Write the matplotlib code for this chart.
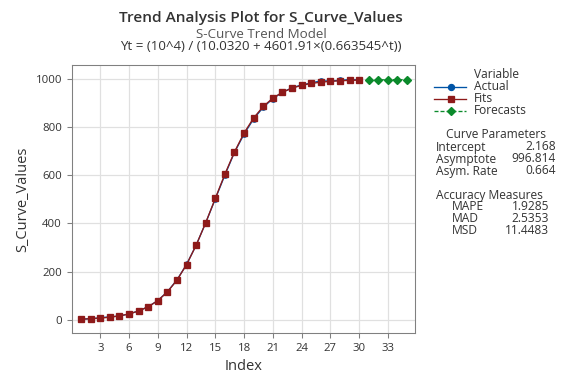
import matplotlib.pyplot as plt

plt.rcParams["font.family"] = ["Open Sans", "DejaVu Sans"]

# --------------------------------------------------
# Data
# --------------------------------------------------
index = list(range(1, 31))
actual = [3, 5, 9, 13, 16, 25, 37, 55, 80, 117, 166, 230, 310, 403, 502,
          601, 695, 771, 834, 882, 918, 944, 963, 975, 983, 992, 991, 994, 997, 996]
fits = [3.3, 4.9, 7.4, 11.1, 16.6, 24.8, 37.0, 54.7, 80.1, 116.0, 165.2, 229.6,
        309.9, 403.4, 504.4, 604.9, 697.1, 775.6, 838.2, 885.6, 920.1, 944.6,
        961.5, 973.1, 981.0, 986.2, 989.8, 992.1, 993.7, 994.7]
fc_index = [31, 32, 33, 34, 35]
forecasts = [995.4, 995.9, 996.2, 996.4, 996.5]

curve_params = [("Intercept", "2.168"), ("Asymptote", "996.814"), ("Asym. Rate", "0.664")]
accuracy = [("MAPE", "1.9285"), ("MAD", "2.5353"), ("MSD", "11.4483")]

blue = "#0054A6"
red = "#8E1A1A"
green = "#0B8A2B"
txt = "#333333"

# --------------------------------------------------
# Plot
# --------------------------------------------------
fig = plt.figure(figsize=(6, 4), dpi=96)
ax = fig.add_axes([0.125, 0.133, 0.595, 0.698])

ax.plot(index, actual, color=blue, linewidth=1, marker="o", markersize=4)
ax.plot(index, fits, color=red, linewidth=1, marker="s", markersize=4.5)
ax.plot(fc_index, forecasts, color=green, linewidth=1, linestyle=(0, (3, 1.5)),
        marker="D", markersize=4)

ax.set_xlim(0.05, 35.8)
ax.set_ylim(-54, 1058)
ax.set_xticks(range(3, 34, 3))
ax.set_yticks(range(0, 1001, 200))
ax.grid(color="#E0E0E0", linewidth=0.9)
ax.set_axisbelow(True)
for s in ax.spines.values():
    s.set_color("#808080")
ax.tick_params(colors="#808080", labelcolor=txt, labelsize=8.5, length=4)
ax.set_xlabel("Index", fontsize=11, color=txt)
ax.set_ylabel("S_Curve_Values", fontsize=11, color=txt)

# titles
cx = 261 / 576
fig.text(cx, 1 - 18 / 384, "Trend Analysis Plot for S_Curve_Values", ha="center", va="center",
         fontsize=11.5, fontweight="semibold", color=txt)
fig.text(cx, 1 - 34 / 384, "S-Curve Trend Model", ha="center", va="center", fontsize=10,
         color="#555555")
fig.text(cx, 1 - 47 / 384, "Yt = (10^4) / (10.0320 + 4601.91\u00d7(0.663545^t))", ha="center",
         va="center", fontsize=10, color=txt)

# legend and statistics panel
def yy(py):
    return 1 - py / 384

fs = 9
fig.text(474 / 576, yy(75), "Variable", fontsize=fs, color=txt, va="center")
legend_items = [("Actual", blue, "o", "-"), ("Fits", red, "s", "-"),
                ("Forecasts", green, "D", (0, (3, 1.5)))]
for i, (name, c, m, ls) in enumerate(legend_items):
    y = yy(87 + 12 * i)
    fig.add_artist(plt.Line2D([434 / 576, 466 / 576], [y, y], color=c, linewidth=1,
                              linestyle=ls, transform=fig.transFigure))
    fig.add_artist(plt.Line2D([451 / 576], [y], color=c, marker=m, markersize=4.5,
                              transform=fig.transFigure))
    fig.text(474 / 576, y, name, fontsize=fs, color=txt, va="center")

fig.text(496 / 576, yy(135), "Curve Parameters", fontsize=fs, color=txt, ha="center", va="center")
for i, (k, v) in enumerate(curve_params):
    y = yy(147 + 12 * i)
    fig.text(436 / 576, y, k, fontsize=fs, color=txt, va="center")
    fig.text(556 / 576, y, v, fontsize=fs, color=txt, va="center", ha="right")

fig.text(489 / 576, yy(195), "Accuracy Measures", fontsize=fs, color=txt, ha="center", va="center")
for i, (k, v) in enumerate(accuracy):
    y = yy(207 + 12 * i)
    fig.text(452 / 576, y, k, fontsize=fs, color=txt, va="center")
    fig.text(549 / 576, y, v, fontsize=fs, color=txt, va="center", ha="right")

fig.savefig("out.png", dpi=96)
